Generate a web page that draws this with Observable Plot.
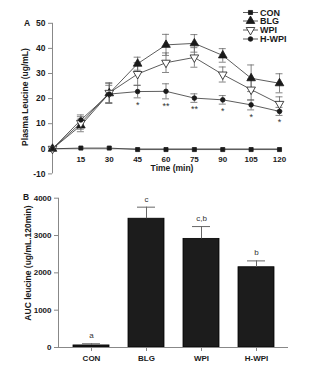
<!DOCTYPE html>
<html><head><meta charset="utf-8">
<script src="https://cdn.jsdelivr.net/npm/d3@7"></script>
<script src="https://cdn.jsdelivr.net/npm/@observablehq/plot@0.6"></script>
<style>
html,body{margin:0;padding:0;background:#fff;}
#wrap{position:relative;width:331px;height:380px;overflow:hidden;font-family:"Liberation Sans",Arial,sans-serif;}
#wrap svg{display:block;}
#overlay{position:absolute;left:0;top:0;}
</style></head>
<body><div id="wrap"></div>
<script>
const times = [0, 15, 30, 45, 60, 75, 90, 105, 120];
const seriesNames = ["CON", "BLG", "WPI", "H-WPI"];
const conMean = [0, 0.3, 0.3, -0.3, -0.3, -0.3, -0.3, -0.3, -0.3];
const conSem  = [0, 0.3, 0.3, 0.3, 0.3, 0.3, 0.3, 0.3, 0.3];
const blgMean = [0, 9.3, 22.1, 33.9, 41.4, 42.0, 37.2, 28.1, 26.1];
const blgSem  = [0, 2.5, 4.0, 2.6, 4.2, 3.5, 2.7, 5.3, 3.8];
const wpiMean = [0, 10.3, 22.3, 29.8, 34.3, 36.4, 29.6, 23.6, 17.9];
const wpiSem  = [0, 2.5, 4.0, 4.5, 3.9, 3.9, 3.0, 4.2, 2.8];
const hwpiMean = [0, 11.5, 21.8, 22.8, 22.9, 20.2, 19.5, 17.5, 14.9];
const hwpiSem  = [0, 2.0, 3.5, 2.5, 3.0, 1.7, 1.7, 2.0, 1.6];
const starTimes = [45, 60, 75, 90, 105, 120];
const starLabels = ["*", "**", "**", "*", "*", "*"];
const yTicksA = [-10, 0, 10, 20, 30, 40, 50];
const xTicksA = [15, 30, 45, 60, 75, 90, 105, 120];

const groups = ["CON", "BLG", "WPI", "H-WPI"];
const aucMean = [55, 3450, 2910, 2150];
const aucSem  = [45, 310, 330, 170];
const aucLetters = ["a", "c", "c,b", "b"];
const yTicksB = [0, 1000, 2000, 3000, 4000];

const FONT = "'Liberation Sans', Arial, sans-serif";
const INK = "#1a1a1a";
const ERR = "#666";

const means = [conMean, blgMean, wpiMean, hwpiMean];
const sems = [conSem, blgSem, wpiSem, hwpiSem];
const rows = [];
seriesNames.forEach((s, si) => times.forEach((t, i) => rows.push({series: s, t, mean: means[si][i], sem: sems[si][i]})));
const errRows = rows.filter(d => d.sem > 0 && d.series !== "CON");
const hw = rows.filter(d => d.series === "H-WPI");
const stars = starTimes.map((t, i) => {
  const r = hw.find(d => d.t === t);
  return {t, y: r.mean - r.sem, label: starLabels[i]};
});

const triDown = {
  draw(context, size) {
    const s3 = Math.sqrt(3);
    const y = -Math.sqrt(size / (s3 * 3));
    context.moveTo(0, -y * 2);
    context.lineTo(-s3 * y, y);
    context.lineTo(s3 * y, y);
    context.closePath();
  }
};
const symbolOf = {"CON": d3.symbolSquare, "BLG": d3.symbolTriangle, "WPI": triDown, "H-WPI": d3.symbolCircle};
const rOf = {"CON": 2.3, "BLG": 3.2, "WPI": 3.2, "H-WPI": 2.3};
const fillOf = {"CON": INK, "BLG": INK, "WPI": "white", "H-WPI": INK};

const plotA = Plot.plot({
  width: 331, height: 180,
  marginLeft: 52, marginRight: 52, marginTop: 22.8, marginBottom: 6.6,
  style: {fontFamily: FONT, fontSize: "8px", color: INK, background: "white", overflow: "visible"},
  x: {domain: [0, 120], axis: null},
  y: {domain: [-10, 50], axis: null},
  marks: [
    Plot.ruleY([0], {stroke: "#888", strokeWidth: 1}),
    Plot.ruleX([0], {stroke: "#888", strokeWidth: 1}),
    Plot.ruleY(yTicksA, {y: d => d, x1: 0, x2: 0, insetLeft: -4, stroke: "#888", strokeWidth: 1}),
    Plot.text(yTicksA, {y: d => d, frameAnchor: "left", dx: -7, textAnchor: "end", text: d => String(d), fontWeight: "bold", fontSize: 8.5, fill: INK}),
    Plot.text(xTicksA, {x: d => d, y: 0, dy: 10.5, text: d => String(d), fontWeight: "bold", fontSize: 8, fill: INK}),
    Plot.ruleX(errRows, {x: "t", y1: d => d.mean - d.sem, y2: d => d.mean + d.sem, stroke: ERR, strokeWidth: 0.8}),
    Plot.ruleY(errRows, {y: d => d.mean + d.sem, x1: "t", x2: "t", insetLeft: -3.5, insetRight: -3.5, stroke: ERR, strokeWidth: 0.8}),
    Plot.ruleY(errRows, {y: d => d.mean - d.sem, x1: "t", x2: "t", insetLeft: -3.5, insetRight: -3.5, stroke: ERR, strokeWidth: 0.8}),
    Plot.line(rows, {x: "t", y: "mean", z: "series", stroke: "#333", strokeWidth: 0.8}),
    ...seriesNames.map(s => Plot.dot(rows.filter(d => d.series === s), {
      x: "t", y: "mean", symbol: symbolOf[s], r: rOf[s], fill: fillOf[s], stroke: INK, strokeWidth: 0.8
    })),
    Plot.text(stars, {x: "t", y: "y", text: "label", dy: 7, fontSize: 9, fill: "#333"}),
    Plot.text(["Time (min)"], {frameAnchor: "bottom", dx: 6, dy: -3, fontWeight: "bold", fontSize: 8.5, fill: INK})
  ]
});

const bars = groups.map((g, i) => ({group: g, auc: aucMean[i], sem: aucSem[i], letter: aucLetters[i]}));

const plotB = Plot.plot({
  width: 331, height: 200,
  marginLeft: 58, marginRight: 43, marginTop: 17.7, marginBottom: 33,
  style: {fontFamily: FONT, fontSize: "8px", color: INK, background: "white", overflow: "visible"},
  x: {domain: groups, padding: 0.35, paddingOuter: 0.25, axis: null},
  y: {domain: [0, 4000], axis: null},
  marks: [
    Plot.barY(bars, {x: "group", y: "auc", fill: "#1c1c1c", stroke: "#000", strokeWidth: 0.8}),
    Plot.ruleX(bars, {x: "group", y1: "auc", y2: d => d.auc + d.sem, stroke: ERR, strokeWidth: 1}),
    Plot.tickY(bars, {x: "group", y: d => d.auc + d.sem, insetLeft: 9, insetRight: 9, stroke: ERR, strokeWidth: 1}),
    Plot.text(bars, {x: "group", y: d => d.auc + d.sem, text: "letter", dy: -8, fontSize: 8, fill: "#333"}),
    Plot.ruleY([0], {stroke: "#888", strokeWidth: 1}),
    Plot.frame({anchor: "left", stroke: "#888"}),
    Plot.axisY(yTicksB, {tickSize: 4, tickPadding: 3, tickFormat: d => String(d), fontWeight: "bold", fontSize: 8, label: null, stroke: "#888"}),
    Plot.axisX({tickSize: 4, tickPadding: 4, fontWeight: "bold", fontSize: 8, label: null, stroke: "#888"})
  ]
});

const wrap = document.getElementById("wrap");
wrap.appendChild(plotA);
wrap.appendChild(plotB);

const svg = d3.select(wrap).append("svg").attr("id", "overlay").attr("width", 331).attr("height", 380);
const txt = (x, y, s, size, extra = {}) => {
  const t = svg.append("text").attr("x", x).attr("y", y).attr("font-family", FONT)
    .attr("font-size", size).attr("font-weight", "bold").attr("fill", INK).text(s);
  for (const k in extra) t.attr(k, extra[k]);
  return t;
};
txt(24, 26, "A", 8.5);
txt(23, 200, "B", 8.5);
txt(0, 0, "Plasma Leucine (ug/mL)", 8.5, {"text-anchor": "middle", transform: "translate(28,97) rotate(-90)"});
txt(0, 0, "AUC leucine (ug/mL.120min)", 8.5, {"text-anchor": "middle", transform: "translate(31,263) rotate(-90)"});

const legendY = [12.5, 21, 30, 39];
seriesNames.forEach((s, i) => {
  const g = svg.append("g").attr("transform", `translate(0,${legendY[i]})`);
  g.append("line").attr("x1", 243).attr("x2", 258).attr("y1", 0).attr("y2", 0).attr("stroke", "#333").attr("stroke-width", 0.8);
  g.append("path").attr("d", d3.symbol(symbolOf[s], Math.PI * rOf[s] * rOf[s])()).attr("transform", "translate(250.5,0)")
    .attr("fill", fillOf[s]).attr("stroke", INK).attr("stroke-width", 0.8);
  g.append("text").attr("x", 260).attr("y", 0).attr("dy", "0.35em").attr("font-family", FONT)
    .attr("font-size", 9).attr("font-weight", "bold").attr("fill", INK).text(s);
});
</script></body></html>
